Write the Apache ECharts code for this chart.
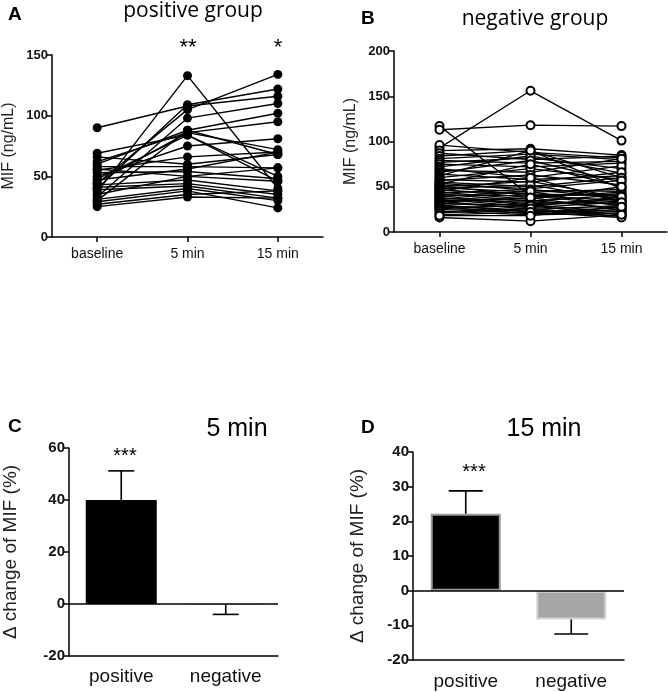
<!DOCTYPE html>
<html><head><meta charset="utf-8">
<script src="https://cdn.jsdelivr.net/npm/echarts@6/dist/echarts.min.js"></script>
<style>html,body{margin:0;padding:0;background:#fff}#c{width:668px;height:692px}</style>
</head><body><div id="c"></div>
<script>
const timeCats = ['baseline', '5 min', '15 min'];
const groupCats = ['positive', 'negative'];

// Panel A: positive group, per subject (baseline, 5 min, 15 min)
const posBaseline = [90, 37, 44, 40, 33, 30, 45, 69, 50, 55, 62, 66, 58, 47, 53, 35, 43, 41, 39, 31, 29, 27, 25, 48, 56, 60];
const pos5min     = [108, 133, 105, 109, 98, 88, 86, 84, 75, 66, 86, 60, 58, 56, 54, 50, 47, 44, 42, 40, 38, 35, 33, 84, 50, 88];
const pos15min    = [116, 40, 134, 122, 110, 102, 95, 50, 81, 70, 72, 68, 57, 70, 48, 46, 38, 35, 32, 30, 24, 38, 32, 46, 57, 68];

// Panel B: negative group
const negBaseline = [117, 113, 93, 96, 90, 87, 84, 81, 79, 77, 75, 72, 70, 68, 66, 64, 62, 60, 58, 57, 55, 54, 53, 52, 51, 50, 49, 48, 47, 46, 45, 44, 43, 42, 41, 40, 39, 38, 37, 36, 35, 34, 33, 32, 31, 30, 29, 28, 27, 26, 25, 23, 21, 19, 16, 18];
const neg5min     = [40, 118, 156, 88, 92, 80, 90, 86, 76, 82, 72, 84, 60, 66, 79, 58, 90, 70, 55, 63, 50, 46, 75, 48, 40, 56, 44, 52, 38, 42, 60, 36, 47, 34, 40, 31, 45, 30, 35, 28, 33, 25, 38, 27, 30, 22, 24, 20, 29, 23, 21, 19, 26, 22, 12, 18];
const neg15min    = [35, 117, 101, 82, 85, 84, 60, 80, 78, 70, 76, 65, 73, 81, 55, 62, 48, 58, 66, 52, 60, 45, 50, 57, 42, 38, 47, 35, 44, 40, 33, 50, 37, 41, 30, 36, 28, 34, 26, 39, 31, 29, 24, 33, 22, 27, 20, 25, 19, 23, 18, 21, 17, 16, 19, 28];

// Panels C and D: delta change of MIF (%)
const delta5Mean  = [40, -0.3];
const delta5Err   = [51.2, -4];
const delta15Mean = [22.2, -8.3];
const delta15Err  = [28.8, -12.5];

const FONT = 'Liberation Sans, Arial, sans-serif';
const AX = {color: '#000', width: 1.5};

function valueAxis(gridIndex, min, max, interval, name, nameGap, nameSize, labelSize) {
  return {
    type: 'value', gridIndex, min, max, interval,
    name, nameLocation: 'middle', nameGap, nameRotate: 90,
    nameTextStyle: {fontFamily: FONT, fontSize: nameSize, color: '#222'},
    axisLine: {show: true, lineStyle: AX},
    axisTick: {show: true, length: 5, lineStyle: AX},
    axisLabel: {fontFamily: FONT, fontSize: labelSize, fontWeight: 'bold', color: '#111', margin: 4},
    splitLine: {show: false}
  };
}
function catAxis(gridIndex, data, fontSize, margin, ticks) {
  return {
    type: 'category', gridIndex, data, boundaryGap: true,
    axisLine: {show: true, onZero: false, lineStyle: AX},
    axisTick: {show: ticks, alignWithLabel: true, length: 5, lineStyle: AX},
    axisLabel: {fontFamily: FONT, fontSize, color: '#111', margin}
  };
}

const series = [];
posBaseline.forEach((b, i) => {
  series.push({
    type: 'line', xAxisIndex: 0, yAxisIndex: 0,
    data: [b, pos5min[i], pos15min[i]],
    symbol: 'circle', symbolSize: 9, showAllSymbol: true,
    itemStyle: {color: '#000'}, lineStyle: {color: '#000', width: 1.4},
    silent: true, animation: false, z: 2
  });
});
negBaseline.forEach((b, i) => {
  series.push({
    type: 'line', xAxisIndex: 1, yAxisIndex: 1,
    data: [b, neg5min[i], neg15min[i]],
    symbol: 'emptyCircle', symbolSize: 8, showAllSymbol: true,
    itemStyle: {color: '#000', borderColor: '#000', borderWidth: 1.4},
    lineStyle: {color: '#000', width: 1.3},
    silent: true, animation: false, z: 2
  });
});

function errSeries(xi, yi, means, errs, capW) {
  return {
    type: 'custom', xAxisIndex: xi, yAxisIndex: yi, animation: false, silent: true, z: 5,
    data: means.map((m, i) => [i, m, errs[i]]),
    renderItem: function (params, api) {
      const p0 = api.coord([api.value(0), api.value(1)]);
      const p1 = api.coord([api.value(0), api.value(2)]);
      const st = {stroke: '#000', lineWidth: 1.6};
      return {type: 'group', children: [
        {type: 'line', shape: {x1: p0[0], y1: p0[1], x2: p1[0], y2: p1[1]}, style: st},
        {type: 'line', shape: {x1: p1[0] - capW / 2, y1: p1[1], x2: p1[0] + capW / 2, y2: p1[1]}, style: st}
      ]};
    }
  };
}

series.push({
  type: 'bar', xAxisIndex: 2, yAxisIndex: 2, barWidth: 71, animation: false, z: 3,
  data: [
    {value: delta5Mean[0], itemStyle: {color: '#000'}},
    {value: delta5Mean[1], itemStyle: {color: '#bbb'}}
  ],
  markLine: {silent: true, symbol: 'none', label: {show: false}, animation: false,
    lineStyle: {color: '#000', width: 1.6, type: 'solid'}, data: [{yAxis: 0}]}
});
series.push(errSeries(2, 2, delta5Mean, delta5Err, 26));

series.push({
  type: 'bar', xAxisIndex: 3, yAxisIndex: 3, barWidth: 70, animation: false, z: 3,
  data: [
    {value: delta15Mean[0], itemStyle: {color: '#000', borderColor: '#9a9a9a', borderWidth: 2}},
    {value: delta15Mean[1], itemStyle: {color: '#a6a6a6', borderColor: '#d4d4d4', borderWidth: 2}}
  ],
  markLine: {silent: true, symbol: 'none', label: {show: false}, animation: false,
    lineStyle: {color: '#000', width: 1.6, type: 'solid'}, data: [{yAxis: 0}]}
});
series.push(errSeries(3, 3, delta15Mean, delta15Err, 34));

function txt(x, y, text, size, weight, family, align) {
  return {type: 'text', x, y, style: {text, fontSize: size, fontWeight: weight || 'normal',
    fontFamily: family || FONT, fill: '#000', textAlign: align || 'left', textVerticalAlign: 'middle'}};
}
const TF = 'Open Sans, Noto Sans, sans-serif';

const option = {
  backgroundColor: '#fff',
  animation: false,
  grid: [
    {left: 50, top: 55, width: 273, height: 182},
    {left: 394, top: 51, width: 273, height: 181},
    {left: 69, top: 448, width: 209, height: 208},
    {left: 413, top: 452, width: 211, height: 208}
  ],
  xAxis: [
    catAxis(0, timeCats, 14, 10, true),
    catAxis(1, timeCats, 14, 10, true),
    catAxis(2, groupCats, 19, 11, false),
    catAxis(3, groupCats, 19, 12, false)
  ],
  yAxis: [
    valueAxis(0, 0, 150, 50, 'MIF (ng/mL)', 35, 16, 13),
    valueAxis(1, 0, 200, 50, 'MIF (ng/mL)', 35, 16, 13),
    valueAxis(2, -20, 60, 20, 'Δ change of MIF (%)', 49, 19, 15),
    valueAxis(3, -20, 40, 10, 'Δ change of MIF (%)', 46, 19, 15)
  ],
  series,
  graphic: [
    txt(8, 15, 'A', 19, 'bold'),
    txt(193, 11, 'positive group', 21, 'normal', TF, 'center'),
    txt(188, 48, '**', 22, 'normal', FONT, 'center'),
    txt(278, 48, '*', 22, 'normal', FONT, 'center'),
    txt(361, 19, 'B', 19, 'bold'),
    txt(535, 19, 'negative group', 21, 'normal', TF, 'center'),
    txt(8, 427, 'C', 19, 'bold'),
    txt(237, 429, '5 min', 25, 'normal', FONT, 'center'),
    txt(125, 456, '***', 20, 'normal', FONT, 'center'),
    txt(361, 428, 'D', 19, 'bold'),
    txt(544, 429, '15 min', 25, 'normal', FONT, 'center'),
    txt(474, 472, '***', 20, 'normal', FONT, 'center')
  ]
};
echarts.init(document.getElementById('c'), null, {renderer: 'canvas'}).setOption(option);
</script>
</body></html>
